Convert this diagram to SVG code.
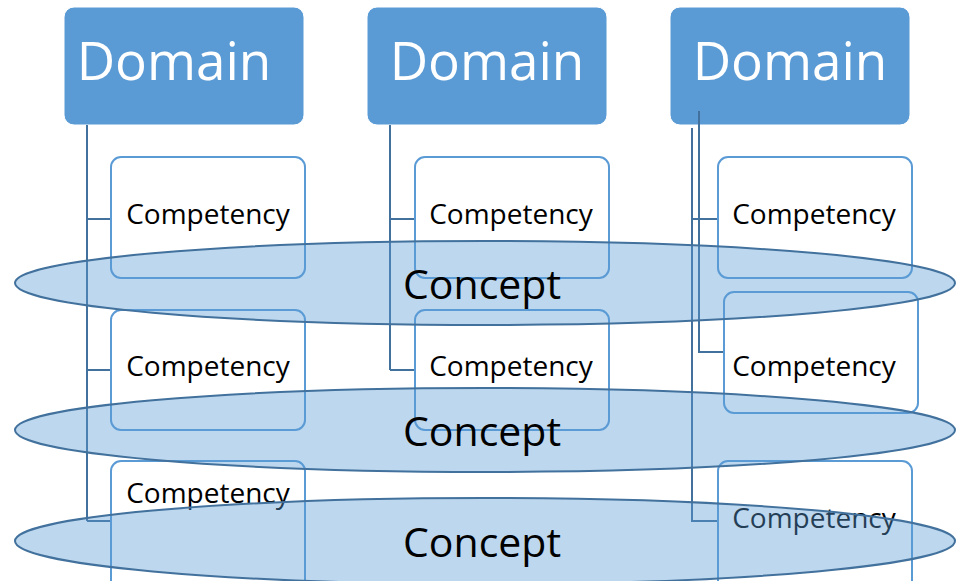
<svg xmlns="http://www.w3.org/2000/svg" width="961" height="581" viewBox="0 0 961 581">
<style>
.dom{fill:#5B9BD5;stroke:#FFFFFF;stroke-width:1}
.domt{font-family:"Open Sans","Liberation Sans",sans-serif;font-size:53px;fill:#FFFFFF;text-anchor:middle}
.comp{fill:#FFFFFF;stroke:#5B9BD5;stroke-width:2}
.compt{font-family:"Open Sans","Liberation Sans",sans-serif;font-size:28px;fill:#000000;text-anchor:middle}
.con{fill:#5B9BD5;fill-opacity:0.4;stroke:#41719C;stroke-width:2}
.cont{font-family:"Open Sans","Liberation Sans",sans-serif;font-size:41px;fill:#000000;text-anchor:middle}
.ln{fill:none;stroke:#41719C;stroke-width:2}
</style>
<rect width="961" height="581" fill="#FFFFFF"/>
<g id="domain1"><rect class="dom" x="64" y="7" width="240" height="118" rx="10"/><text class="domt" x="174" y="80">Domain</text></g>
<g id="domain2"><rect class="dom" x="367" y="7" width="240" height="118" rx="10"/><text class="domt" x="487" y="80">Domain</text></g>
<g id="domain3"><rect class="dom" x="670" y="7" width="240" height="118" rx="10"/><text class="domt" x="790" y="80">Domain</text></g>
<g id="connectors">
<path class="ln" d="M87,125 V521 M87,219 H111 M87,370 H111 M87,521 H111"/>
<path class="ln" d="M390,125 V370 M390,219 H415 M390,370 H415"/>
<path class="ln" d="M692,128 V521 H718 M692,219 H718 M699,111 V352 H723"/>
</g>
<g id="comp1a"><rect class="comp" x="111" y="157" width="194" height="121" rx="10"/><text class="compt" x="208" y="224">Competency</text></g>
<g id="comp1b"><rect class="comp" x="111" y="310" width="194" height="120" rx="10"/><text class="compt" x="208" y="376">Competency</text></g>
<g id="comp1c"><rect class="comp" x="111" y="461" width="194" height="130" rx="10"/><text class="compt" x="208" y="503">Competency</text></g>
<g id="comp2a"><rect class="comp" x="415" y="157" width="194" height="121" rx="10"/><text class="compt" x="511" y="224">Competency</text></g>
<g id="comp2b"><rect class="comp" x="415" y="310" width="194" height="120" rx="10"/><text class="compt" x="511" y="376">Competency</text></g>
<g id="comp3a"><rect class="comp" x="718" y="157" width="194" height="121" rx="10"/><text class="compt" x="814" y="224">Competency</text></g>
<g id="comp3b"><rect class="comp" x="724" y="292" width="194" height="121" rx="10"/><text class="compt" x="814" y="376">Competency</text></g>
<g id="comp3c"><rect class="comp" x="718" y="461" width="194" height="130" rx="10"/><text class="compt" x="814" y="528">Competency</text></g>
<g id="concept1"><ellipse class="con" cx="485" cy="283" rx="470" ry="42"/><text class="cont" x="482" y="299">Concept</text></g>
<g id="concept2"><ellipse class="con" cx="485" cy="430" rx="470" ry="42"/><text class="cont" x="482" y="446">Concept</text></g>
<g id="concept3"><ellipse class="con" cx="485" cy="541" rx="470" ry="43"/><text class="cont" x="482" y="557">Concept</text></g>
</svg>
